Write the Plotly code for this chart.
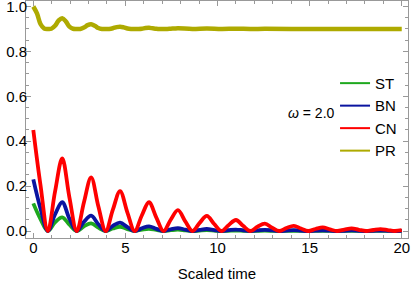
import plotly.graph_objects as go

# Time samples (scaled time)
t = [0.00, 0.39, 0.79, 1.18, 1.57, 1.96, 2.36, 2.75, 3.14, 3.53, 3.93, 4.32, 4.71, 5.11,
     5.50, 5.89, 6.28, 6.68, 7.07, 7.46, 7.85, 8.25, 8.64, 9.03, 9.42, 9.82, 10.21, 10.60,
     11.00, 11.39, 11.78, 12.17, 12.57, 12.96, 13.35, 13.74, 14.14, 14.53, 14.92, 15.32,
     15.71, 16.10, 16.49, 16.89, 17.28, 17.67, 18.06, 18.46, 18.85, 19.24, 19.63, 20.00]

st = [0.123, 0.053, 0.0, 0.039, 0.061, 0.028, 0.0, 0.021, 0.034, 0.015, 0.0, 0.011,
      0.019, 0.0085, 0.0, 0.006, 0.010, 0.0045, 0.0, 0.0035, 0.006, 0.0027, 0.0, 0.002,
      0.0035, 0.0016, 0.0, 0.0012, 0.0022, 0.001, 0.0, 0.0008, 0.0015, 0.0007, 0.0, 0.0005,
      0.001, 0.0005, 0.0, 0.0004, 0.0008, 0.0004, 0.0, 0.0003, 0.0006, 0.0003, 0.0, 0.0002,
      0.0005, 0.0002, 0.0, 0.0002]

bn = [0.230, 0.100, 0.0, 0.074, 0.128, 0.055, 0.0, 0.041, 0.068, 0.030, 0.0, 0.023,
      0.037, 0.017, 0.0, 0.012, 0.021, 0.0095, 0.0, 0.0075, 0.013, 0.006, 0.0, 0.005,
      0.009, 0.004, 0.0, 0.0035, 0.0065, 0.003, 0.0, 0.0025, 0.005, 0.0023, 0.0, 0.002,
      0.004, 0.0018, 0.0, 0.0016, 0.003, 0.0014, 0.0, 0.0012, 0.0025, 0.0011, 0.0, 0.001,
      0.002, 0.0009, 0.0, 0.0008]

cn = [0.450, 0.205, 0.0, 0.175, 0.323, 0.150, 0.0, 0.128, 0.239, 0.110, 0.0, 0.095,
      0.178, 0.082, 0.0, 0.069, 0.128, 0.060, 0.0, 0.050, 0.093, 0.043, 0.0, 0.036,
      0.067, 0.031, 0.0, 0.026, 0.049, 0.023, 0.0, 0.019, 0.033, 0.015, 0.0, 0.013,
      0.023, 0.011, 0.0, 0.009, 0.016, 0.0075, 0.0, 0.0065, 0.012, 0.0055, 0.0, 0.0045,
      0.008, 0.004, 0.0, 0.0035]

t_pr = [0.00, 0.20, 0.39, 0.59, 0.79, 0.98, 1.18, 1.37, 1.57, 1.77, 1.96, 2.16, 2.36, 2.55,
        2.75, 2.95, 3.14, 3.34, 3.53, 3.73, 3.93, 4.12, 4.32, 4.52, 4.71, 4.91, 5.11, 5.30,
        5.50, 5.69, 5.89, 6.09, 6.28, 6.48, 6.68, 6.87, 7.07, 7.27, 7.46, 7.66, 7.85, 8.64,
        9.42, 10.21, 11.00, 11.78, 12.57, 14.00, 16.00, 18.00, 20.00]
pr = [1.000, 0.969, 0.922, 0.902, 0.900, 0.901, 0.914, 0.937, 0.948, 0.933, 0.910, 0.901,
      0.900, 0.900, 0.906, 0.917, 0.921, 0.914, 0.904, 0.900, 0.900, 0.900, 0.903, 0.908,
      0.910, 0.907, 0.902, 0.900, 0.900, 0.900, 0.901, 0.904, 0.905, 0.903, 0.901, 0.900,
      0.900, 0.900, 0.901, 0.902, 0.903, 0.900, 0.902, 0.900, 0.901, 0.900, 0.9005, 0.900,
      0.900, 0.900, 0.900]

x_ticks = [0, 5, 10, 15, 20]
y_ticks = [0.0, 0.2, 0.4, 0.6, 0.8, 1.0]

series = [
    ("ST", t, st, "#1ea81e", 3.8),
    ("BN", t, bn, "#0a14a0", 3.8),
    ("CN", t, cn, "#ff0000", 3.8),
    ("PR", t_pr, pr, "#aeaa00", 4.5),
]

fig = go.Figure()
for name, xs, ys, col, w in series:
    fig.add_trace(go.Scatter(x=xs, y=ys, mode="lines", name=name, showlegend=False,
                             line=dict(color=col, width=w, shape="spline", smoothing=1.0)))
# legend entries with thin sample lines
for name, xs, ys, col, w in series:
    fig.add_trace(go.Scatter(x=[None], y=[None], mode="lines", name=name,
                             line=dict(color=col, width=2)))

axis_common = dict(showline=True, linecolor="#999999", linewidth=1, mirror="allticks",
                   ticks="inside", ticklen=5, tickcolor="#999999", showgrid=False,
                   zeroline=False, automargin=False, ticklabeloverflow="allow",
                   tickfont=dict(size=15, color="#000000"))

fig.update_layout(
    width=412, height=285,
    margin=dict(l=26, r=4, t=1, b=47),
    plot_bgcolor="white", paper_bgcolor="white",
    font=dict(family="Liberation Sans, Arial, sans-serif", size=15, color="#000000"),
    xaxis=dict(range=[-0.396, 20.34], tickvals=x_ticks, ticklabelstandoff=-4,
               minor=dict(dtick=1, ticklen=3, ticks="inside", tickcolor="#999999"),
               title=dict(text="Scaled time", font=dict(size=15), standoff=13),
               **axis_common),
    yaxis=dict(range=[-0.0312, 1.0245], tickvals=y_ticks, tickformat=".1f",
               ticklabelstandoff=-5,
               minor=dict(dtick=0.05, ticklen=3, ticks="inside", tickcolor="#999999"),
               **axis_common),
    legend=dict(x=0.809, y=0.722, xanchor="left", yanchor="top",
                bgcolor="rgba(0,0,0,0)", font=dict(size=15), tracegroupgap=0),
    annotations=[dict(x=15.1, y=0.524, xref="x", yref="y", showarrow=False,
                      text="<i>ω</i> = 2.0", font=dict(size=14))],
)

fig.write_html("out.html", config={"displayModeBar": False},
               post_script="document.body.style.margin='0';")
